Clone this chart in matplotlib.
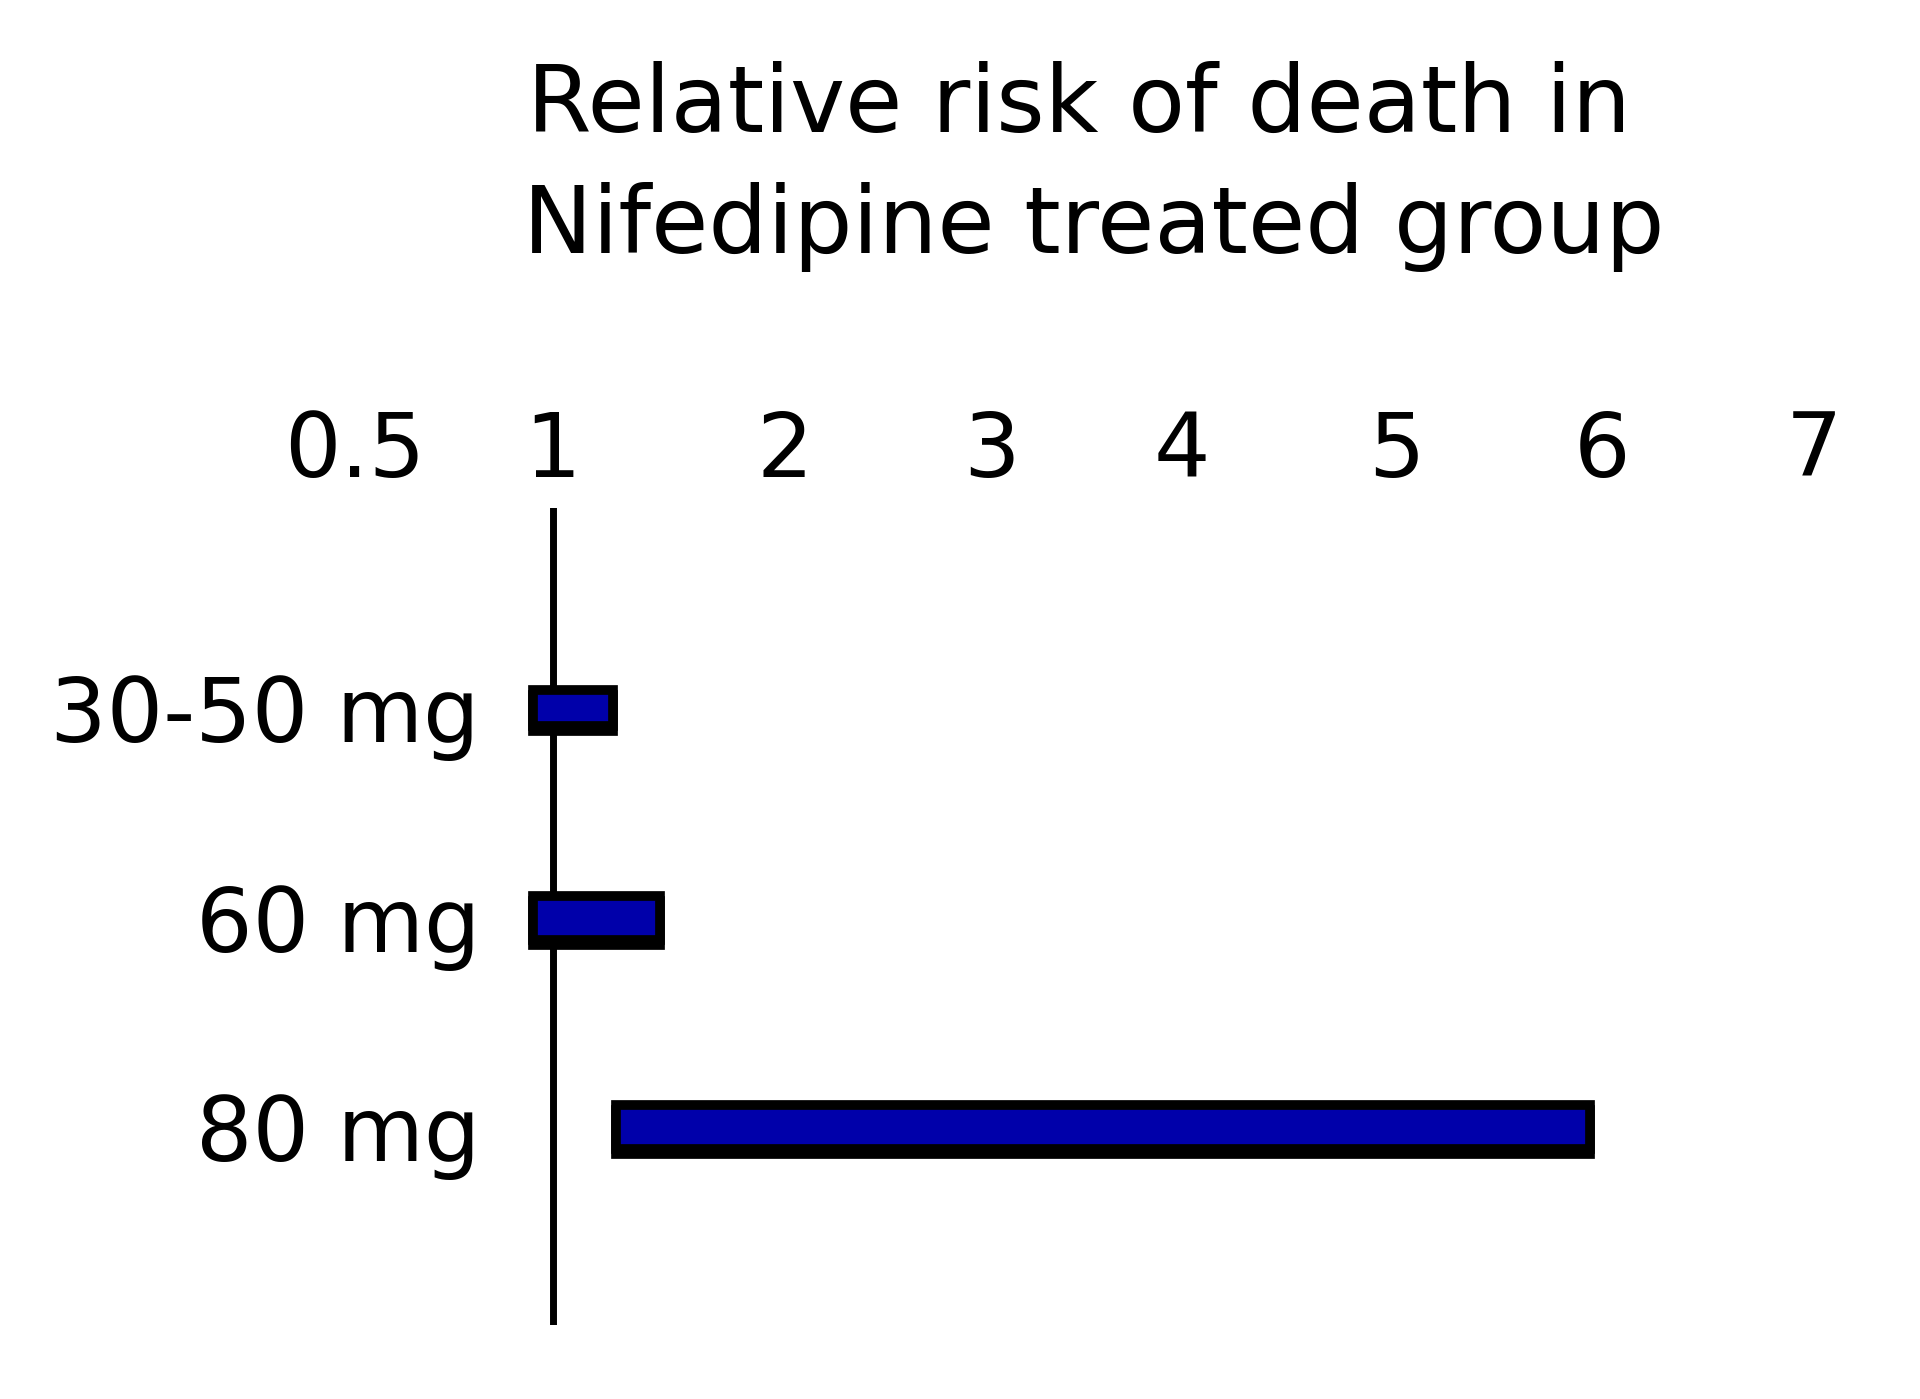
import numpy as np
import matplotlib
matplotlib.use("Agg")
import matplotlib.pyplot as plt

# ---- data ----
doses = ["30-50 mg", "60 mg", "80 mg"]
ci_low = [0.95, 0.95, 1.27]
ci_high = [1.26, 1.46, 5.94]
tick_values = [0.5, 1, 2, 3, 4, 5, 6, 7]
tick_labels = ["0.5", "1", "2", "3", "4", "5", "6", "7"]
title_lines = ["Relative risk of death in", "Nifedipine treated group"]

# ---- hand-drawn (non-uniform) axis: piecewise-linear scale ----
tick_px = [355, 553, 785, 992, 1182, 1396, 1602, 1814]


def fwd(v):
    return np.interp(v, tick_values, tick_px)


def inv(p):
    return np.interp(p, tick_px, tick_values)


W, H = 1920, 1399
fig = plt.figure(figsize=(W / 100, H / 100), dpi=100)
fig.patch.set_facecolor("white")

ax_left, ax_right = 355, 1814
ax_top, ax_bottom = 508, 1325
ax = fig.add_axes([ax_left / W, 1 - ax_bottom / H, (ax_right - ax_left) / W, (ax_bottom - ax_top) / H])
ax.set_xscale("function", functions=(fwd, inv))
ax.set_xlim(0.5, 7)
ax.set_ylim(2.945, -0.955)

bar_heights = [0.17, 0.21, 0.21]
ypos = np.arange(len(doses))
widths = [h - l for l, h in zip(ci_low, ci_high)]
# drop shadow (thicker bottom border like the original)
ax.barh(ypos + 0.025, widths, left=ci_low, height=bar_heights, color="black",
        edgecolor="black", linewidth=7, zorder=3)
ax.barh(ypos, widths, left=ci_low, height=bar_heights, color="#0000AA",
        edgecolor="black", linewidth=7, zorder=4)

ax.axvline(1, color="black", linewidth=5, zorder=2)

for s in ax.spines.values():
    s.set_visible(False)

ax.xaxis.set_ticks_position("top")
ax.set_xticks(tick_values)
ax.set_xticklabels(tick_labels)
ax.tick_params(axis="x", length=0, pad=9, labelsize=64)
ax.xaxis.set_minor_locator(matplotlib.ticker.NullLocator())

ax.set_yticks(ypos)
ax.set_yticklabels(doses)
ax.tick_params(axis="y", length=0, pad=-90, labelsize=64)

fig.text(1079 / W, 1 - 132 / H, title_lines[0], ha="center", va="baseline",
         fontsize=67)
fig.text(1094 / W, 1 - 253 / H, title_lines[1], ha="center", va="baseline",
         fontsize=67)

fig.savefig("out.png", dpi=100, facecolor="white")
